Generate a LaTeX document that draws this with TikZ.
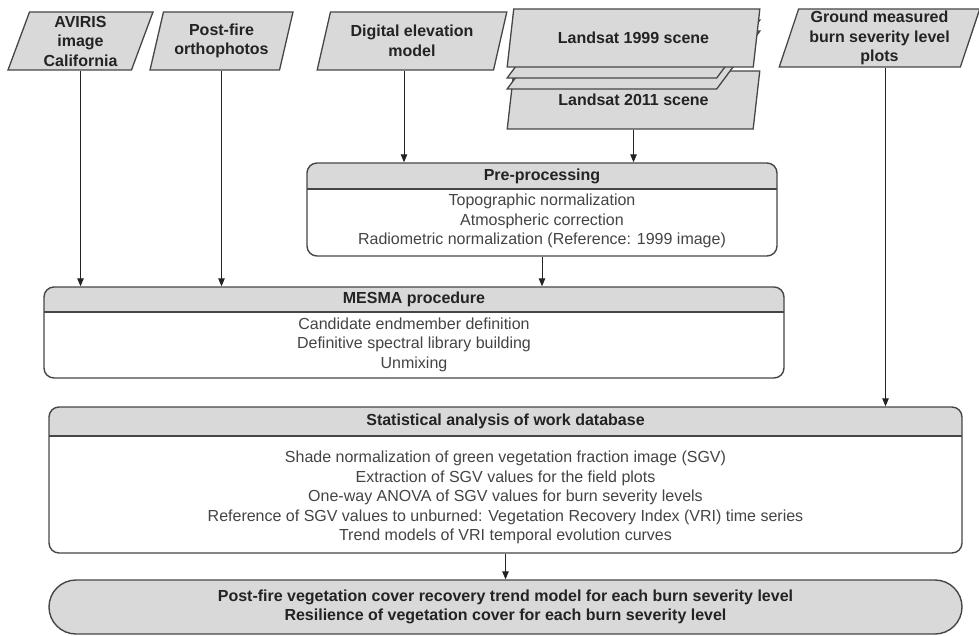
\documentclass[tikz,border=0pt]{standalone}
\usepackage{fontspec}
\setmainfont{Liberation Sans}
\usepackage{xcolor}
\usepackage{tikz}
\usetikzlibrary{calc, shapes.geometric, positioning, arrows.meta}

\definecolor{edgegray}{RGB}{70,70,70}
\definecolor{fillgray}{RGB}{217,217,217}
\definecolor{textgray}{RGB}{35,35,35}

\begin{document}
\begin{tikzpicture}[x=1pt, y=-1pt, >={Triangle[length=8pt,width=6.5pt]},
    font=\fontsize{16}{19.5}\selectfont,
    source/.style={trapezium, trapezium left angle=73, trapezium right angle=107,
        trapezium stretches=true, draw=edgegray, line width=1.3pt, fill=fillgray,
        inner sep=1pt, align=center, text=textgray,
        font=\fontsize{16}{19.5}\selectfont\bfseries},
    stage/.style={draw=edgegray, line width=1.4pt, rounded corners=10pt, fill=white, inner sep=0pt},
    header/.style={path picture={
        \fill[fillgray, sharp corners] (path picture bounding box.north west)
            rectangle ([yshift=-#1]path picture bounding box.north east);
        \draw[edgegray, line width=1.4pt, sharp corners] ([yshift=-#1]path picture bounding box.north west)
            -- ([yshift=-#1]path picture bounding box.north east);}},
    title/.style={text=textgray, font=\fontsize{16}{19.5}\selectfont\bfseries},
    items/.style={align=center, text=textgray!85},
    link/.style={->, line width=1pt, draw=textgray}]

    % =================================================================
    % 0. CANVAS
    % =================================================================
    \useasboundingbox (0,0) rectangle (979,636);

    % =================================================================
    % 1. INPUT DATA (PARALLELOGRAMS)
    % =================================================================
    \node[source, minimum width=145pt, minimum height=58pt] (aviris) at (80.5,41) {AVIRIS\\image\\California};
    \node[source, minimum width=143pt, minimum height=58pt] (ortho) at (221.5,41) {Post-fire\\orthophotos};
    \node[source, minimum width=190pt, minimum height=58pt] (dem) at (412,41) {Digital elevation\\model};

    % Landsat stack: back scene, two sheets, front scene
    \node[source, minimum width=253pt, minimum height=58pt] (scene11) at (633.5,100) {Landsat 2011 scene};
    \node[source, minimum width=253pt, minimum height=58pt] (sheetb) at (633.5,60) {\phantom{M}};
    \node[source, minimum width=253pt, minimum height=58pt] (sheeta) at (633.5,49) {\phantom{M}};
    \node[source, minimum width=253pt, minimum height=58pt] (scene99) at (633.5,38) {Landsat 1999 scene};

    \node[source, minimum width=201pt, minimum height=58pt] (ground) at (879.5,38) {Ground measured\\burn severity level\\plots};

    % =================================================================
    % 2. PROCESSING BOXES
    % =================================================================
    % Pre-processing
    \node[stage, header=26pt, minimum width=470pt, minimum height=93pt] (pre) at (542,209.5) {};
    \node[title] (pre-t) at (542,176) {Pre-processing};
    \node[items] (pre-b) at (542,221) {Topographic normalization\\Atmospheric correction\\Radiometric normalization (Reference: 1999 image)};

    % MESMA
    \node[stage, header=25pt, minimum width=740pt, minimum height=91pt] (mesma) at (414,332.5) {};
    \node[title] (mesma-t) at (414,299.5) {MESMA procedure};
    \node[items] (mesma-b) at (414,344.5) {Candidate endmember definition\\Definitive spectral library building\\Unmixing};

    % Statistical analysis
    \node[stage, header=29pt, minimum width=913pt, minimum height=146pt] (stats) at (505.5,480) {};
    \node[title] (stats-t) at (505.5,421.5) {Statistical analysis of work database};
    \node[items] (stats-b) at (505.5,497.5) {Shade normalization of green vegetation fraction image (SGV)\\
        Extraction of SGV values for the field plots\\
        One-way ANOVA of SGV values for burn severity levels\\
        Reference of SGV values to unburned: Vegetation Recovery Index (VRI) time series\\
        Trend models of VRI temporal evolution curves};

    % Final result
    \node[stage, rounded corners=27pt, fill=fillgray, minimum width=913pt, minimum height=54pt,
        align=center, text=textgray, font=\fontsize{16}{19.5}\selectfont\bfseries] (result) at (505.5,607)
        {Post-fire vegetation cover recovery trend model for each burn severity level\\
         Resilience of vegetation cover for each burn severity level};

    % =================================================================
    % 3. CONNECTORS
    % =================================================================
    \draw[link] (aviris.south) -- (aviris.south |- mesma.north);
    \draw[link] (ortho.south) -- (ortho.south |- mesma.north);
    \draw[link] ([xshift=-8pt]dem.south) -- ([xshift=-8pt]dem.south |- pre.north);
    \draw[link] (scene11.south) -- (scene11.south |- pre.north);
    \draw[link] (pre.south) -- (pre.south |- mesma.north);
    \draw[link] ([xshift=6pt]ground.south) -- ([xshift=6pt]ground.south |- stats.north);
    \draw[link] (stats.south) -- (result.north);

\end{tikzpicture}
\end{document}
